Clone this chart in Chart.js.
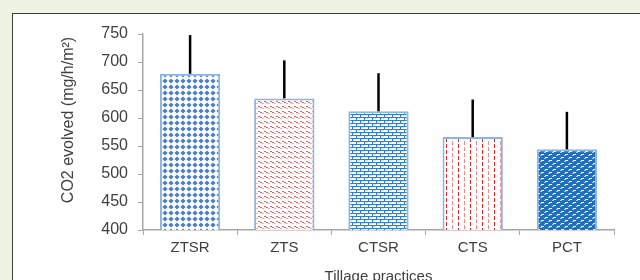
<!DOCTYPE html>
<html>
<head>
<meta charset="utf-8">
<script src="https://cdn.jsdelivr.net/npm/chart.js@4"></script>
<style>
  html, body { margin: 0; padding: 0; width: 640px; height: 280px; overflow: hidden; background: #eff3e4; }
  #panel { position: absolute; left: 12px; top: 13px; width: 700px; height: 320px; background: #fff; border: 1px solid #3c3c3c; }
  #chart { position: absolute; left: 0; top: 0; }
</style>
</head>
<body>
<div id="panel"></div>
<canvas id="chart" width="640" height="290"></canvas>
<script>
// data
const practices = ["ZTSR", "ZTS", "CTSR", "CTS", "PCT"];
const co2Evolved = [679, 635, 612, 566, 544];
const co2Error = [69, 68, 68, 67, 67];
const yMin = 400, yMax = 750, yStep = 50;
const yTitle = "CO2 evolved (mg/h/m²)";

function makePattern(ctx, w, h, bg, draw) {
    let c = document.createElement("canvas");
    c.width = w; c.height = h;
    let g = c.getContext("2d");
    g.fillStyle = bg;
    g.fillRect(0, 0, w, h);
    draw(g);
    return ctx.createPattern(c, "repeat");
}

let chartElement = document.getElementById("chart");
let ctx = chartElement.getContext("2d");

// diamonds, blue
let ztsrFill = makePattern(ctx, 6, 6, "#fff", g => {
    g.fillStyle = "#4a7fc2";
    g.beginPath();
    g.moveTo(3, 0.6); g.lineTo(5.6, 3); g.lineTo(3, 5.4); g.lineTo(0.4, 3);
    g.closePath(); g.fill();
});
// small red diagonal dashes
let ztsFill = makePattern(ctx, 6, 5, "#fff", g => {
    g.fillStyle = "#f05c5c";
    g.fillRect(0, 1, 2, 1);
    g.fillRect(2, 2, 2, 1);
    g.fillStyle = "#f9a8a8";
    g.fillRect(4, 3, 2, 1);
});
// blue brick
let ctsrFill = makePattern(ctx, 8, 6, "#fff", g => {
    g.fillStyle = "#2f7fca";
    g.fillRect(0, 0, 8, 1);
    g.fillRect(0, 3, 8, 1);
    g.fillRect(0, 0, 1, 3);
    g.fillRect(4, 3, 1, 3);
    g.fillStyle = "#cfe2f5";
    g.fillRect(1, 1, 3, 1);
    g.fillRect(5, 4, 3, 1);
});
// red vertical dashes
let ctsFill = makePattern(ctx, 12, 6, "#fff", g => {
    g.fillStyle = "#d92626";
    g.fillRect(2, 0, 1, 4);
    g.fillStyle = "#f08a8a";
    g.fillRect(8, 3, 1, 4);
    g.fillRect(8, 0, 1, 1);
});
// blue weave with white bits
let pctFill = makePattern(ctx, 8, 6, "#1f70c1", g => {
    g.fillStyle = "#ffffff";
    g.fillRect(1, 1, 3, 1);
    g.fillRect(5, 4, 3, 1);
    g.fillStyle = "#9cc6ee";
    g.fillRect(0, 2, 2, 1);
    g.fillRect(4, 5, 2, 1);
});

const textColor = "#404040";
const axisColor = "#a6a6a6";

const errorBars = {
    id: "errorBars",
    afterDatasetsDraw(chart) {
        let meta = chart.getDatasetMeta(0);
        let yScale = chart.scales.y;
        let c = chart.ctx;
        c.save();
        c.strokeStyle = "#000";
        c.lineWidth = 2.5;
        meta.data.forEach((bar, i) => {
            let top = yScale.getPixelForValue(co2Evolved[i] + co2Error[i]);
            c.beginPath();
            c.moveTo(bar.x, bar.y);
            c.lineTo(bar.x, top);
            c.stroke();
        });
        c.restore();
    }
};

// y axis title, sitting a bit above the plot centre like the original
const yAxisTitle = {
    id: "yAxisTitle",
    afterDraw(chart) {
        let c = chart.ctx;
        let area = chart.chartArea;
        c.save();
        c.translate(69, (area.top + area.bottom) / 2 - 12);
        c.rotate(-Math.PI / 2);
        c.fillStyle = textColor;
        c.font = "16px 'Liberation Sans'";
        c.textAlign = "center";
        c.textBaseline = "middle";
        c.fillText(yTitle, 0, 0);
        c.restore();
    }
};

new Chart(chartElement, {
    type: "bar",
    data: {
        labels: practices,
        datasets: [{
            data: co2Evolved,
            backgroundColor: [ztsrFill, ztsFill, ctsrFill, ctsFill, pctFill],
            borderColor: "#8db4e2",
            borderWidth: 2,
            categoryPercentage: 1,
            barPercentage: 0.64
        }]
    },
    options: {
        responsive: false,
        animation: false,
        layout: { padding: { left: 55, right: 26, top: 34, bottom: 0 } },
        plugins: {
            legend: { display: false },
            tooltip: { enabled: false }
        },
        scales: {
            x: {
                grid: { drawOnChartArea: false, tickLength: 5, color: axisColor },
                border: { color: axisColor, width: 1.5 },
                ticks: { color: textColor, padding: 4, font: { family: "Liberation Sans", size: 15 } },
                title: {
                    display: true,
                    text: "Tillage practices",
                    color: textColor,
                    font: { family: "Liberation Sans", size: 15 }
                },
                afterFit(scale) { scale.height = 60; }
            },
            y: {
                min: yMin,
                max: yMax,
                grid: { drawOnChartArea: false, tickLength: 5, color: axisColor },
                border: { color: axisColor, width: 1.5 },
                ticks: { stepSize: yStep, color: textColor, padding: 10, font: { family: "Liberation Sans", size: 16 } },
                afterFit(scale) { scale.width = 88; }
            }
        }
    },
    plugins: [errorBars, yAxisTitle]
});
</script>
</body>
</html>
